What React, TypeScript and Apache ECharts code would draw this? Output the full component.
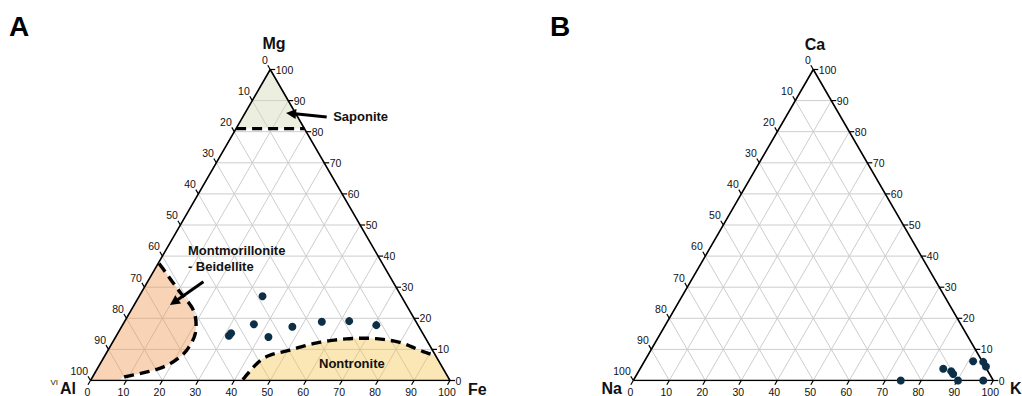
import React, { useEffect, useRef } from "react";
import * as echarts from "echarts";

const H = Math.sqrt(3) / 2;
const tickValues = [0, 10, 20, 30, 40, 50, 60, 70, 80, 90, 100];
const gridValues = [10, 20, 30, 40, 50, 60, 70, 80, 90];

// Panel A: octahedral composition (Fe %, Mg %; Al = 100 - Fe - Mg)
const smectiteFe = [34.3, 36.4, 31.3, 31.5, 42.5, 47.5, 54.9, 62.4, 70.6];
const smectiteMg = [27.1, 18.1, 14.4, 15.2, 14.0, 17.3, 18.9, 19.1, 17.8];

// Panel B: interlayer cations (K %, Ca %; Na = 100 - K - Ca)
const cationK = [74.3, 84.2, 86.8, 87.8, 90.2, 91.3, 94.2, 95.7, 97.2];
const cationCa = [0, 3.8, 3.0, 2.1, 0, 6.2, 6.0, 4.5, 0];

// Field boundaries in panel A (Fe %, Mg %)
const saponiteMg = 81;
const montFe = [0.3, 9.9, 17.3, 21.2, 22.0, 21.1, 17.3, 8.3];
const montMg = [37.6, 29.1, 22.6, 16.2, 11.4, 7.6, 3.9, 1.0];
const nontFe = [42.2, 44.5, 50.6, 58.5, 69.1, 78.9, 87.9, 92.0];
const nontMg = [0.3, 7.1, 9.8, 12.5, 13.6, 12.5, 9.3, 8.0];

const cornersA = ["Mg", "Al", "Fe"];
const cornersB = ["Ca", "Na", "K"];

const FONT = "Liberation Sans, Arial, sans-serif";
const DOT = "#0c2f47";

function cart(f: number, m: number): number[] {
  return [f + m / 2, m * H];
}

function gridSegments() {
  const segs: number[][] = [];
  for (const v of gridValues) {
    segs.push([...cart(0, v), ...cart(100 - v, v)]);
    segs.push([...cart(v, 0), ...cart(v, 100 - v)]);
    segs.push([...cart(100 - v, 0), ...cart(0, 100 - v)]);
  }
  return segs;
}

function spline(pts: number[][], n = 14) {
  const out: number[][] = [];
  for (let i = 0; i < pts.length - 1; i++) {
    const p0 = pts[i - 1] || pts[i];
    const p1 = pts[i];
    const p2 = pts[i + 1];
    const p3 = pts[i + 2] || pts[i + 1];
    for (let j = 0; j < n; j++) {
      const t = j / n, t2 = t * t, t3 = t2 * t;
      const c = (k: number) =>
        0.5 * (2 * p1[k] + (-p0[k] + p2[k]) * t + (2 * p0[k] - 5 * p1[k] + 4 * p2[k] - p3[k]) * t2 + (-p0[k] + 3 * p1[k] - 3 * p2[k] + p3[k]) * t3);
      out.push([c(0), c(1)]);
    }
  }
  out.push(pts[pts.length - 1]);
  return out;
}

function outlineSeries(gi: number) {
  return {
    type: "line", xAxisIndex: gi, yAxisIndex: gi, symbol: "none", silent: true, z: 5,
    data: [cart(0, 0), cart(100, 0), cart(0, 100), cart(0, 0)],
    lineStyle: { color: "#000", width: 1.6 },
  };
}

function gridSeries(gi: number) {
  return {
    type: "custom", xAxisIndex: gi, yAxisIndex: gi, silent: true, z: 1,
    data: gridSegments(),
    encode: { x: [0, 2], y: [1, 3] },
    renderItem: (_p: any, api: any) => {
      const a = api.coord([api.value(0), api.value(1)]);
      const b = api.coord([api.value(2), api.value(3)]);
      return { type: "line", shape: { x1: a[0], y1: a[1], x2: b[0], y2: b[1] }, style: { stroke: "#cdcdcd", lineWidth: 1 } };
    },
  };
}

function tickSeries(gi: number) {
  return {
    type: "custom", xAxisIndex: gi, yAxisIndex: gi, silent: true, z: 6,
    data: tickValues.map((v) => [v]),
    encode: { x: 0, y: 0 },
    renderItem: (_p: any, api: any) => {
      const v = api.value(0);
      const b = api.coord(cart(v, 0));
      const r = api.coord(cart(100 - v, v));
      const l = api.coord(cart(0, 100 - v));
      const ts = { fill: "#111", fontSize: 10.5, fontFamily: FONT };
      const ln = (p: number[], dx: number, dy: number) => ({
        type: "line", shape: { x1: p[0], y1: p[1], x2: p[0] + dx, y2: p[1] + dy }, style: { stroke: "#000", lineWidth: 1.2 },
      });
      return {
        type: "group",
        children: [
          ln(b, -2.5, 4.3),
          ln(r, 5, 0),
          ln(l, -2.5, -4.3),
          { type: "text", x: b[0] - 3, y: b[1] + 11, style: { ...ts, text: String(v), align: "center", verticalAlign: "middle" } },
          { type: "text", x: r[0] + 5.5, y: r[1], style: { ...ts, text: String(v), align: "left", verticalAlign: "middle" } },
          { type: "text", x: l[0] - 2.5, y: l[1] - 9.7, style: { ...ts, text: String(v), align: "right", verticalAlign: "middle" } },
        ],
      };
    },
  };
}

function fillSeries(gi: number, build: (api: any) => number[][], color: string, z = 0) {
  return {
    type: "custom", xAxisIndex: gi, yAxisIndex: gi, silent: true, z,
    data: [[0, 0]],
    renderItem: (_p: any, api: any) => ({
      type: "polygon", shape: { points: build(api) }, style: { fill: color },
    }),
  };
}

function dashSeries(gi: number, build: (api: any) => number[][]) {
  return {
    type: "custom", xAxisIndex: gi, yAxisIndex: gi, silent: true, z: 4,
    data: [[0, 0]],
    renderItem: (_p: any, api: any) => ({
      type: "polyline", shape: { points: build(api) },
      style: { stroke: "#000", lineWidth: 3.4, lineDash: [10, 6], fill: null },
    }),
  };
}

const arrows = [
  { from: [65.7, 73.4], to: [54.4, 74.5] },
  { from: [31.4, 27.5], to: [22.1, 21.0] },
];
const notes = [
  { text: "Saponite", at: [67.5, 73.4], align: "left" },
  { text: "Montmorillonite", at: [27.1, 36.3], align: "left" },
  { text: "- Beidellite", at: [27.1, 31.7], align: "left" },
  { text: "Nontronite", at: [72.7, 4.8], align: "center" },
];

function arrowSeries() {
  return {
    type: "custom", xAxisIndex: 0, yAxisIndex: 0, silent: true, z: 8,
    data: arrows.map((a) => [...a.from, ...a.to]),
    encode: { x: [0, 2], y: [1, 3] },
    renderItem: (_p: any, api: any) => {
      const a = api.coord([api.value(0), api.value(1)]);
      const b = api.coord([api.value(2), api.value(3)]);
      const dx = b[0] - a[0], dy = b[1] - a[1];
      const len = Math.hypot(dx, dy);
      const ux = dx / len, uy = dy / len;
      const hl = 10, hw = 5;
      const base = [b[0] - ux * hl, b[1] - uy * hl];
      return {
        type: "group",
        children: [
          { type: "line", shape: { x1: a[0], y1: a[1], x2: base[0] + ux * 1, y2: base[1] + uy * 1 }, style: { stroke: "#000", lineWidth: 3 } },
          {
            type: "polygon",
            shape: { points: [b, [base[0] - uy * hw, base[1] + ux * hw], [base[0] + uy * hw, base[1] - ux * hw]] },
            style: { fill: "#000" },
          },
        ],
      };
    },
  };
}

function noteSeries() {
  return {
    type: "custom", xAxisIndex: 0, yAxisIndex: 0, silent: true, z: 9,
    data: notes.map((n) => n.at),
    renderItem: (p: any, api: any) => {
      const n = notes[p.dataIndex];
      const c = api.coord([api.value(0), api.value(1)]);
      return {
        type: "text", x: c[0], y: c[1],
        style: { text: n.text, fill: "#111", fontSize: 13, fontWeight: "bold", fontFamily: FONT, align: n.align, verticalAlign: "middle" },
      };
    },
  };
}

export default function App() {
  const ref = useRef<HTMLDivElement>(null);
  useEffect(() => {
    if (!ref.current) return;
    const chart = echarts.init(ref.current, undefined, { renderer: "svg" });
    const axisX = (gi: number) => ({ type: "value", gridIndex: gi, min: 0, max: 100, show: false });
    const axisY = (gi: number) => ({ type: "value", gridIndex: gi, min: 0, max: 100 * H, show: false });

    const montCurve = (api: any) => spline(montFe.map((f, i) => api.coord(cart(f, montMg[i]))));
    const nontCurve = (api: any) => spline(nontFe.map((f, i) => api.coord(cart(f, nontMg[i]))));

    const titleStyle = { fontSize: 16, fontWeight: "bold", fontFamily: FONT, fill: "#111" };

    chart.setOption({
      animation: false,
      backgroundColor: "#fff",
      grid: [
        { left: 90.5, top: 69.5, width: 359.5, height: 311 },
        { left: 633.3, top: 69.5, width: 360, height: 311 },
      ],
      xAxis: [axisX(0), axisX(1)],
      yAxis: [axisY(0), axisY(1)],
      graphic: [
        { type: "text", left: 9, top: 12, style: { text: "A", fontSize: 28, fontWeight: "bold", fontFamily: FONT, fill: "#000" } },
        { type: "text", left: 550, top: 12, style: { text: "B", fontSize: 28, fontWeight: "bold", fontFamily: FONT, fill: "#000" } },
        { type: "text", x: 274, y: 43.5, style: { ...titleStyle, text: cornersA[0], align: "center", verticalAlign: "middle" } },
        { type: "text", x: 60, y: 388.5, style: { ...titleStyle, text: cornersA[1], align: "left", verticalAlign: "middle" } },
        { type: "text", x: 58, y: 382, style: { fontSize: 8, fontFamily: FONT, fill: "#111", text: "VI", align: "right", verticalAlign: "middle" } },
        { type: "text", x: 468, y: 389, style: { ...titleStyle, text: cornersA[2], align: "left", verticalAlign: "middle" } },
        { type: "text", x: 815, y: 44.5, style: { ...titleStyle, text: cornersB[0], align: "center", verticalAlign: "middle" } },
        { type: "text", x: 601.5, y: 388.5, style: { ...titleStyle, text: cornersB[1], align: "left", verticalAlign: "middle" } },
        { type: "text", x: 1010, y: 388.5, style: { ...titleStyle, text: cornersB[2], align: "left", verticalAlign: "middle" } },
      ],
      series: [
        gridSeries(0),
        gridSeries(1),
        fillSeries(0, (api) => [cart(0, saponiteMg), cart(100 - saponiteMg, saponiteMg), cart(0, 100)].map((p) => api.coord(p)), "rgba(210,218,180,0.42)", 2),
        fillSeries(0, (api) => [...montCurve(api), api.coord(cart(montFe[montFe.length - 1], 0)), api.coord(cart(0, 0)), api.coord(cart(0, montMg[0]))], "rgba(240,150,80,0.42)", 2),
        fillSeries(0, (api) => [api.coord(cart(nontFe[0], 0)), ...nontCurve(api), api.coord(cart(100, 0))], "rgba(245,198,80,0.42)", 2),
        dashSeries(0, (api) => [api.coord(cart(0, saponiteMg)), api.coord(cart(100 - saponiteMg, saponiteMg))]),
        dashSeries(0, montCurve),
        dashSeries(0, nontCurve),
        outlineSeries(0),
        outlineSeries(1),
        tickSeries(0),
        tickSeries(1),
        {
          type: "scatter", xAxisIndex: 0, yAxisIndex: 0, z: 7, symbolSize: 8,
          itemStyle: { color: DOT, opacity: 1 },
          data: smectiteFe.map((f, i) => cart(f, smectiteMg[i])),
        },
        {
          type: "scatter", xAxisIndex: 1, yAxisIndex: 1, z: 7, symbolSize: 8,
          itemStyle: { color: DOT, opacity: 1 },
          data: cationK.map((k, i) => cart(k, cationCa[i])),
        },
        arrowSeries(),
        noteSeries(),
      ],
    });
    return () => chart.dispose();
  }, []);
  return <div ref={ref} style={{ position: "absolute", left: 0, top: 0, width: 1022, height: 396 }} />;
}
